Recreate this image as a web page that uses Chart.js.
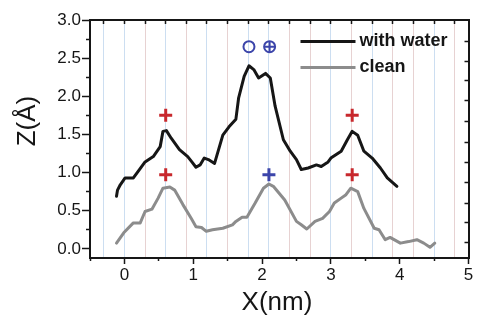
<!DOCTYPE html>
<html><head><meta charset="utf-8">
<script src="https://cdn.jsdelivr.net/npm/chart.js@4/dist/chart.umd.min.js"></script>
<style>html,body{margin:0;padding:0;background:#fff}#wrap{width:478px;height:322px}</style>
</head><body><div id="wrap"><canvas id="c" width="478" height="322"></canvas></div>
<script>
// ---- data ----
const WATER_X = [-0.115,-0.10,-0.06,0.01,0.13,0.21,0.30,0.42,0.52,0.56,0.61,0.68,0.80,0.92,0.98,1.04,1.10,1.16,1.22,1.31,1.43,1.52,1.59,1.62,1.66,1.74,1.81,1.88,1.95,2.05,2.12,2.19,2.31,2.41,2.50,2.57,2.67,2.79,2.86,2.96,3.00,3.15,3.24,3.31,3.39,3.48,3.60,3.72,3.82,3.96];
const WATER_Y = [0.69,0.77,0.84,0.93,0.93,1.03,1.14,1.21,1.34,1.54,1.55,1.45,1.30,1.21,1.14,1.07,1.10,1.19,1.17,1.12,1.49,1.60,1.67,1.70,1.98,2.26,2.40,2.35,2.24,2.30,2.24,1.87,1.43,1.28,1.17,1.04,1.06,1.10,1.08,1.14,1.19,1.28,1.43,1.54,1.49,1.28,1.19,1.06,0.93,0.82];
const CLEAN_X = [-0.115,-0.01,0.13,0.23,0.30,0.40,0.49,0.56,0.66,0.73,0.85,0.97,1.04,1.12,1.19,1.28,1.43,1.57,1.62,1.71,1.78,1.90,2.02,2.10,2.17,2.33,2.50,2.57,2.65,2.77,2.88,2.98,3.05,3.15,3.22,3.29,3.39,3.48,3.63,3.70,3.79,3.86,4.01,4.13,4.25,4.35,4.44,4.51];
const CLEAN_Y = [0.075,0.21,0.34,0.34,0.49,0.52,0.665,0.795,0.81,0.77,0.58,0.40,0.29,0.28,0.23,0.25,0.27,0.315,0.36,0.415,0.415,0.60,0.795,0.85,0.815,0.64,0.36,0.315,0.26,0.36,0.40,0.49,0.60,0.665,0.71,0.795,0.75,0.53,0.27,0.25,0.12,0.15,0.075,0.095,0.12,0.075,0.02,0.075];
const RED_PLUS_X = [0.6, 3.31, 0.6, 3.31];
const RED_PLUS_Y = [1.75, 1.75, 0.97, 0.97];
const BLUE_PLUS_X = [2.1];
const BLUE_PLUS_Y = [0.97];
const OPEN_CIRCLE_X = [1.81];
const OPEN_CIRCLE_Y = [2.65];
const CROSSED_CIRCLE_X = [2.11];
const CROSSED_CIRCLE_Y = [2.65];
const SERIES_LABELS = ['with water', 'clean'];

// ---- ticks ----
const X_TICKS = [0, 1, 2, 3, 4, 5];
const X_MINOR_TICKS = [-0.5, 0.5, 1.5, 2.5, 3.5, 4.5];
const Y_TICKS = [0, 0.5, 1, 1.5, 2, 2.5, 3];
const Y_MINOR_TICKS = [0.25, 0.75, 1.25, 1.75, 2.25, 2.75];
const TOP_TICKS = [-0.3, 0, 0.3, 0.6, 0.9, 1.2, 1.5, 1.8, 2.1, 2.4, 2.7, 3.0, 3.3, 3.6, 3.9, 4.2, 4.5, 4.8];
const RIGHT_TICKS = [0.08, 0.34, 0.60, 0.87, 1.13, 1.39, 1.67, 1.94, 2.21, 2.46, 2.72];

// ---- styles ----
const INK = '#161616';
const RED = '#c8282d';
const BLUE = '#3c45aa';
const GRAY = '#8c8c8c';
const FAM = '"Liberation Sans", Arial, sans-serif';
const BLUE_G = 'rgba(170,200,232,0.6)';
const PINK_G = 'rgba(215,180,180,0.6)';
const GRID_COLORS = [BLUE_G,BLUE_G,PINK_G,BLUE_G,PINK_G,BLUE_G,PINK_G,BLUE_G,BLUE_G,PINK_G,PINK_G,BLUE_G,PINK_G,BLUE_G,PINK_G,PINK_G,BLUE_G,PINK_G];

const pts = (xs, ys) => xs.map((x, i) => ({x, y: ys[i]}));
const setTicks = vals => scale => { scale.ticks = vals.map(v => ({value: v})); };

const XMIN = -0.5, XMAX = 5, YMIN = -0.12, YMAX = 3;

const overlay = {
  id: 'overlay',
  afterDraw(chart) {
    const ctx = chart.ctx, a = chart.chartArea;
    ctx.save();
    // legend
    const ds = chart.data.datasets;
    const rows = [{c: INK, t: ds[0].label, y: a.top + 21.5}, {c: GRAY, t: ds[1].label, y: a.top + 47.5}];
    ctx.font = 'bold 18px ' + FAM;
    ctx.textBaseline = 'middle';
    ctx.textAlign = 'left';
    rows.forEach(r => {
      ctx.strokeStyle = r.c; ctx.lineWidth = 3;
      ctx.beginPath(); ctx.moveTo(a.right - 168, r.y); ctx.lineTo(a.right - 113, r.y); ctx.stroke();
      ctx.fillStyle = INK;
      ctx.fillText(r.t, a.right - 109, r.y);
    });
    // axis titles
    ctx.fillStyle = INK;
    ctx.font = '26px ' + FAM;
    ctx.textAlign = 'center';
    ctx.textBaseline = 'middle';
    ctx.fillText('X(nm)', a.left + 187, a.bottom + 45);
    ctx.translate(28, a.top + 101);
    ctx.rotate(-Math.PI / 2);
    ctx.fillText('Z(Å)', 0, 0);
    ctx.restore();
  }
};

const lineStyle = {showLine: true, borderWidth: 3, pointRadius: 0, tension: 0, borderJoinStyle: 'round', borderCapStyle: 'round'};

new Chart(document.getElementById('c'), {
  type: 'scatter',
  data: {
    datasets: [
      Object.assign({label: SERIES_LABELS[0], data: pts(WATER_X, WATER_Y), borderColor: INK, order: 5}, lineStyle),
      Object.assign({label: SERIES_LABELS[1], data: pts(CLEAN_X, CLEAN_Y), borderColor: GRAY, order: 6}, lineStyle),
      {label: 'red', data: pts(RED_PLUS_X, RED_PLUS_Y), pointStyle: 'cross', pointRadius: 6.5, borderColor: RED, borderWidth: 3, order: 1},
      {label: 'blue', data: pts(BLUE_PLUS_X, BLUE_PLUS_Y), pointStyle: 'cross', pointRadius: 6.5, borderColor: BLUE, borderWidth: 3, order: 1},
      {label: 'circ', data: pts(OPEN_CIRCLE_X, OPEN_CIRCLE_Y), pointStyle: 'circle', pointRadius: 5.5, borderColor: BLUE, backgroundColor: 'rgba(0,0,0,0)', borderWidth: 2, order: 1},
      {label: 'xcirc', data: pts(CROSSED_CIRCLE_X, CROSSED_CIRCLE_Y), pointStyle: 'circle', pointRadius: 5.5, borderColor: BLUE, backgroundColor: 'rgba(0,0,0,0)', borderWidth: 2, order: 1},
      {label: 'xcirc2', data: pts(CROSSED_CIRCLE_X, CROSSED_CIRCLE_Y), pointStyle: 'cross', pointRadius: 5.5, borderColor: BLUE, borderWidth: 2, order: 1}
    ]
  },
  options: {
    responsive: false,
    animation: false,
    devicePixelRatio: 1,
    layout: {padding: 0},
    plugins: {legend: {display: false}, tooltip: {enabled: false}},
    scales: {
      x: {
        type: 'linear', position: 'bottom', min: XMIN, max: XMAX, weight: 1,
        afterBuildTicks: setTicks(X_TICKS),
        ticks: {autoSkip: false, maxRotation: 0, color: INK, font: {family: FAM, size: 17}, padding: 1, callback: v => String(v)},
        grid: {drawOnChartArea: false, drawTicks: true, tickLength: 6, tickColor: INK, tickWidth: 1.5},
        border: {display: true, color: INK, width: 2},
        afterFit: s => { s.height = 64; }
      },
      xMinor: {
        type: 'linear', position: 'bottom', min: XMIN, max: XMAX, weight: 0,
        afterBuildTicks: setTicks(X_MINOR_TICKS),
        ticks: {display: false, autoSkip: false},
        grid: {drawOnChartArea: false, drawTicks: true, tickLength: 3, tickColor: INK, tickWidth: 1.5},
        border: {display: false},
        afterFit: s => { s.height = 0; }
      },
      xTop: {
        type: 'linear', position: 'top', min: XMIN, max: XMAX,
        afterBuildTicks: setTicks(TOP_TICKS),
        ticks: {display: false, autoSkip: false},
        grid: {drawOnChartArea: true, color: c => GRID_COLORS[c.index % GRID_COLORS.length], lineWidth: 1, drawTicks: true, tickLength: -4, tickColor: INK, tickWidth: 1.5},
        border: {display: true, color: INK, width: 2},
        afterFit: s => { s.height = 20; }
      },
      y: {
        type: 'linear', position: 'left', min: YMIN, max: YMAX, weight: 1,
        afterBuildTicks: setTicks(Y_TICKS),
        ticks: {autoSkip: false, color: INK, font: {family: FAM, size: 17}, padding: 1, callback: v => v.toFixed(1)},
        grid: {drawOnChartArea: false, drawTicks: true, tickLength: 8, tickColor: INK, tickWidth: 1.5},
        border: {display: true, color: INK, width: 2},
        afterFit: s => { s.width = 90; }
      },
      yMinor: {
        type: 'linear', position: 'left', min: YMIN, max: YMAX, weight: 0,
        afterBuildTicks: setTicks(Y_MINOR_TICKS),
        ticks: {display: false, autoSkip: false},
        grid: {drawOnChartArea: false, drawTicks: true, tickLength: 4, tickColor: INK, tickWidth: 1.5},
        border: {display: false},
        afterFit: s => { s.width = 0; }
      },
      yRight: {
        type: 'linear', position: 'right', min: YMIN, max: YMAX,
        afterBuildTicks: setTicks(RIGHT_TICKS),
        ticks: {display: false, autoSkip: false},
        grid: {drawOnChartArea: false, drawTicks: true, tickLength: -4, tickColor: INK, tickWidth: 1.5},
        border: {display: true, color: INK, width: 2},
        afterFit: s => { s.width = 5; }
      }
    }
  },
  plugins: [overlay]
});
</script>
</body></html>
